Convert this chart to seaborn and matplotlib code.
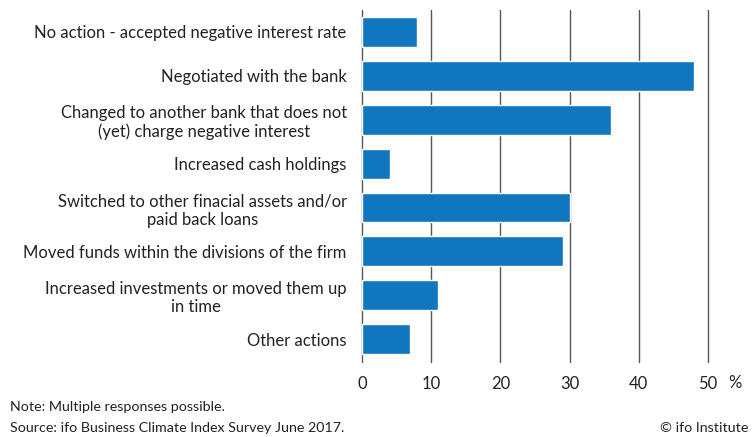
import pandas as pd
import seaborn as sns
from matplotlib import pyplot as plt

actions = [
    "No action - accepted negative interest rate",
    "Negotiated with the bank",
    "Changed to another bank that does not\n(yet) charge negative interest",
    "Increased cash holdings",
    "Switched to other finacial assets and/or\npaid back loans",
    "Moved funds within the divisions of the firm",
    "Increased investments or moved them up\nin time",
    "Other actions",
]
shares = [8, 48, 36, 4, 30, 29, 11, 7]
ticks = [0, 10, 20, 30, 40, 50]

df = pd.DataFrame({"action": actions, "share": shares})

sns.set_style("white")
plt.rcParams["font.family"] = ["Lato", "DejaVu Sans"]

fig = plt.figure(figsize=(7.55, 4.37), dpi=100)
ax = fig.add_axes([0.4795, 0.1716, 0.4582, 0.8055])

sns.barplot(data=df, x="share", y="action", orient="h", color="#1077be",
            saturation=1, width=0.68, ax=ax, zorder=3)

# vertical grid lines
for t in ticks:
    ax.axvline(t, color="#555555", lw=1, zorder=1, clip_on=False)

ax.set_xlim(0, 50)
ax.set_ylim(7.52, -0.5)
ax.set_xticks(ticks)
ax.set_xlabel("")
ax.set_ylabel("")
for s in ax.spines.values():
    s.set_visible(False)
ax.tick_params(axis="both", length=0, labelsize=12, colors="#222222")
ax.tick_params(axis="y", pad=11)
ax.tick_params(axis="x", pad=10)
for lab in ax.get_yticklabels():
    lab.set_horizontalalignment("right")
    lab.set_multialignment("center")

fig.text(735 / 755, 1 - 383 / 437, "%", ha="center", va="center",
         fontsize=12, color="#222222")
fig.text(10 / 755, 1 - 407 / 437, "Note: Multiple responses possible.",
         ha="left", va="center", fontsize=10.3, color="#222222")
fig.text(10 / 755, 1 - 428 / 437, "Source: ifo Business Climate Index Survey June 2017.",
         ha="left", va="center", fontsize=10.3, color="#222222")
fig.text(748 / 755, 1 - 428 / 437, "© ifo Institute",
         ha="right", va="center", fontsize=10.3, color="#222222")

fig.savefig("out.png", dpi=100)
